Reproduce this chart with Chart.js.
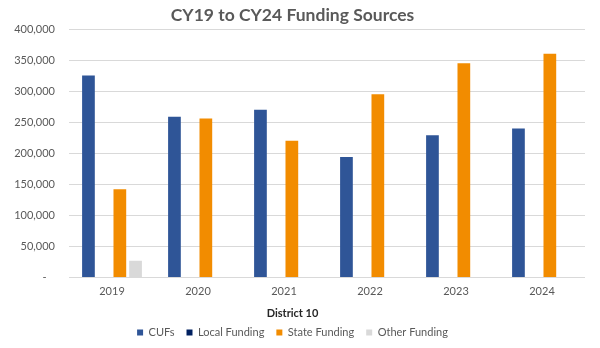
<!DOCTYPE html>
<html>
<head>
<meta charset="utf-8">
<title>CY19 to CY24 Funding Sources</title>
<script src="https://cdn.jsdelivr.net/npm/chart.js@4.4.1/dist/chart.umd.min.js"></script>
<style>
  html, body { margin: 0; padding: 0; background: #fff; }
  #wrap { width: 600px; height: 348px; }
</style>
</head>
<body>
<div id="wrap"><canvas id="myChart" width="600" height="348"></canvas></div>
<script>
// funding per calendar year, District 10
var years = ['2019', '2020', '2021', '2022', '2023', '2024'];
var cufs = [325000, 259000, 270000, 194000, 229000, 240000];
var localFunding = [0, 0, 0, 0, 0, 0];
var stateFunding = [142000, 256000, 220000, 295000, 345000, 360000];
var otherFunding = [27000, 0, 0, 0, 0, 0];

var textGrey = '#595959';
var fontName = 'Lato, "Open Sans", sans-serif';

var ctx = document.getElementById('myChart').getContext('2d');
var chart = new Chart(ctx, {
    type: 'bar',
    data: {
        labels: years,
        datasets: [
            { label: 'CUFs', data: cufs, backgroundColor: '#2F5597' },
            { label: 'Local Funding', data: localFunding, backgroundColor: '#002060' },
            { label: 'State Funding', data: stateFunding, backgroundColor: '#F28C00' },
            { label: 'Other Funding', data: otherFunding, backgroundColor: '#D9D9D9' }
        ]
    },
    options: {
        responsive: false,
        animation: false,
        layout: { padding: { left: 0, right: 15, top: 0, bottom: 0 } },
        datasets: {
            bar: { categoryPercentage: 0.73, barPercentage: 0.81 }
        },
        plugins: {
            title: {
                display: true,
                text: 'CY19 to CY24 Funding Sources',
                color: textGrey,
                font: { family: fontName, size: 17.5, weight: 'bold' },
                padding: { top: 5, bottom: 3 }
            },
            // axis caption sits between the x labels and the legend
            subtitle: {
                display: true,
                position: 'bottom',
                weight: 500,
                text: 'District 10',
                color: '#262626',
                font: { family: fontName, size: 11, weight: 'bold' },
                padding: { top: 2, bottom: -5 }
            },
            legend: {
                position: 'bottom',
                labels: {
                    color: textGrey,
                    font: { family: fontName, size: 11 },
                    boxWidth: 6,
                    boxHeight: 6,
                    padding: 12
                }
            },
            tooltip: { enabled: false }
        },
        scales: {
            x: {
                grid: { display: false, drawTicks: false },
                border: { display: false },
                ticks: { color: textGrey, font: { family: fontName, size: 11 }, padding: 7 }
            },
            y: {
                min: 0,
                max: 400000,
                afterFit: function (axis) { axis.width = 69; },
                grid: { color: '#D9D9D9', drawTicks: false },
                border: { display: false },
                ticks: {
                    stepSize: 50000,
                    color: textGrey,
                    font: { family: fontName, size: 11 },
                    padding: 14,
                    callback: function (v) {
                        return v === 0 ? '-   ' : v.toLocaleString('en-US');
                    }
                }
            }
        }
    }
});
</script>
</body>
</html>
